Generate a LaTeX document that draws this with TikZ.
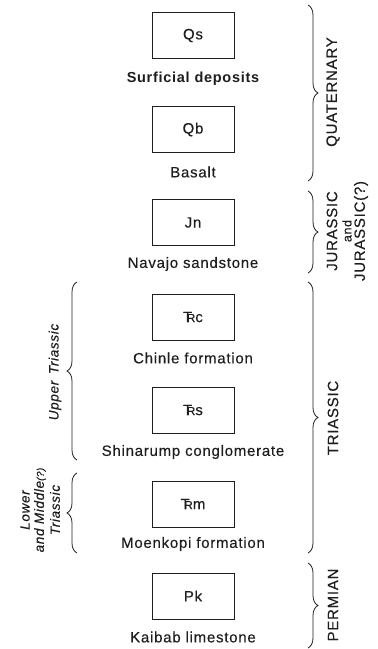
\documentclass[tikz,border=0pt]{standalone}
\usepackage{fontspec}
\usepackage{graphicx}
\setmainfont{Liberation Sans}[LetterSpace=5, UprightFeatures={FakeBold=0.3}, ItalicFeatures={FakeBold=0.3}]
\usetikzlibrary{decorations.pathreplacing}
\newcommand{\trsym}{T\kern-0.36em\scalebox{0.78}{R}}
\definecolor{ink}{HTML}{1E1E1E}
\begin{document}
\begin{tikzpicture}[x=1pt,y=-1pt,
  every node/.style={text=ink},
  unitbox/.style={draw=ink, line width=0.9pt, minimum width=82pt, minimum height=46pt, inner sep=0pt, font=\fontsize{15}{17}\selectfont},
  lbl/.style={inner sep=0pt, font=\fontsize{15}{17}\selectfont},
  sys/.style={inner sep=0pt, rotate=90, font=\fontsize{15}{17}\selectfont},
  sub/.style={inner sep=0pt, rotate=90, font=\fontsize{13.5}{15}\selectfont\itshape},
  br/.style={draw=ink, line width=0.8pt, decorate, decoration={brace, amplitude=10pt}}]
\fill[white] (0,0) rectangle (378,649);
\useasboundingbox (0,0) rectangle (378,649);
% units
\node[unitbox] (qs) at (193,35.5) {Qs};
\node[lbl, font=\fontsize{14.5}{16}\selectfont\bfseries] (qsl) at (193,79) {Surficial deposits};
\node[unitbox] (qb) at (193,129.5) {Qb};
\node[lbl] (qbl) at (193,172) {Basalt};
\node[unitbox] (jn) at (193,222.5) {Jn};
\node[lbl] (jnl) at (193,264) {Navajo sandstone};
\node[unitbox] (rc) at (193,317) {\trsym c};
\node[lbl] (rcl) at (193,358) {Chinle formation};
\node[unitbox] (rs) at (193,410) {\trsym s};
\node[lbl] (rsl) at (193,452) {Shinarump conglomerate};
\node[unitbox] (rm) at (193,504) {\trsym m};
\node[lbl] (rml) at (193,544) {Moenkopi formation};
\node[unitbox] (pk) at (193,596) {Pk};
\node[lbl] (pkl) at (193,637) {Kaibab limestone};
% right braces
\coordinate (qt) at (308,5);   \coordinate (qbm) at (308,181);
\coordinate (jt) at (308,191); \coordinate (jbm) at (308,273);
\coordinate (tt) at (308,282); \coordinate (tbm) at (308,553);
\coordinate (pt) at (308,563); \coordinate (pbm) at (308,648);
\draw[br] (qt) -- (qbm);
\draw[br] (jt) -- (jbm);
\draw[br] (tt) -- (tbm);
\draw[br] (pt) -- (pbm);
\node[sys] (quat) at (333,92) {QUATERNARY};
\node[sys] (jur1) at (332,231) {JURASSIC};
\node[sys, font=\fontsize{12.5}{14}\selectfont] (jur2) at (347,231) {and};
\node[sys] (jur3) at (361,231) {JURASSIC(?)};
\node[sys] (tri) at (333,418) {TRIASSIC};
\node[sys] (perm) at (333,605) {PERMIAN};
% left braces
\coordinate (ut) at (77,282);  \coordinate (ub) at (77,460);
\coordinate (lt) at (77,473);  \coordinate (lb) at (77,553);
\draw[br] (ub) -- (ut);
\draw[br] (lb) -- (lt);
\node[sub] (upper) at (55,372) {Upper\enspace Triassic};
\node[sub] (low1) at (25,510) {Lower};
\node[sub] (low2) at (40,510) {and Middle{\fontsize{10}{12}\selectfont(?)}};
\node[sub] (low3) at (55,510) {Triassic};
\end{tikzpicture}
\end{document}
